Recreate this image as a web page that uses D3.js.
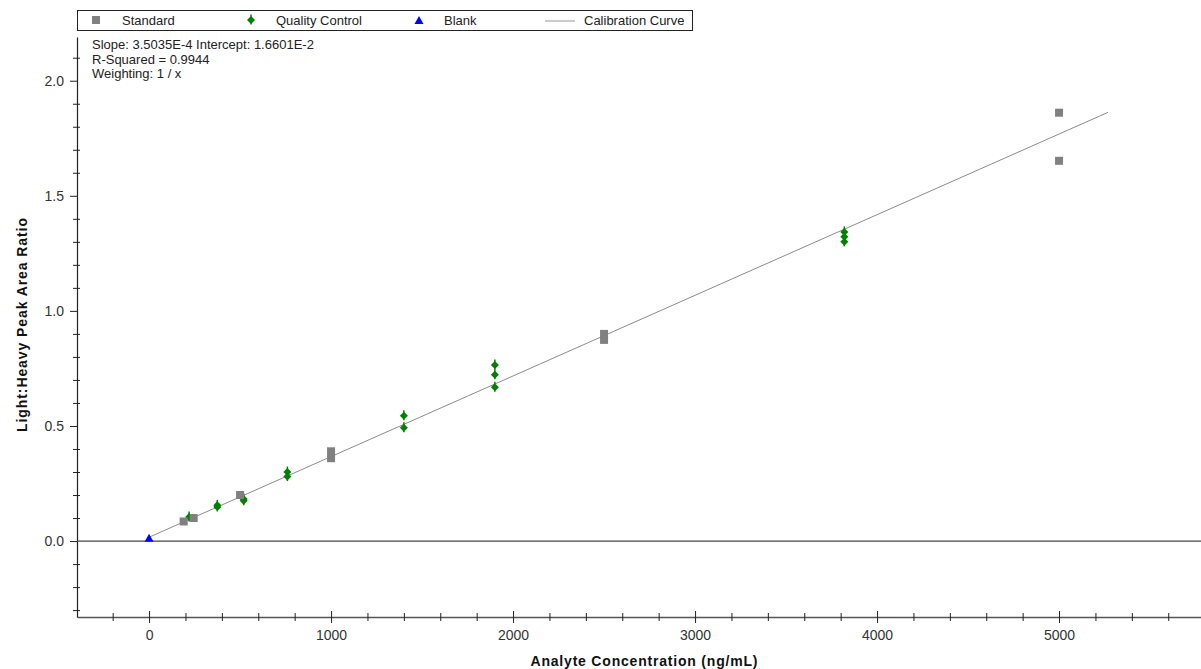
<!DOCTYPE html>
<html>
<head>
<meta charset="utf-8">
<script src="https://cdn.jsdelivr.net/npm/d3@7"></script>
<style>
    body { margin: 0; background: #fff; }
    svg { display: block; font-family: "Liberation Sans", Arial, sans-serif; }
</style>
</head>
<body>
<svg id="chart" width="1201" height="669"></svg>
<script>
"use strict";

// standards (concentration ng/mL, light:heavy ratio)
const stdConc = [190, 245, 500, 1000, 1000, 2500, 2500, 5000, 5000];
const stdRatio = [0.085, 0.100, 0.200, 0.390, 0.360, 0.900, 0.874, 1.861, 1.652];

// quality control samples
const qcConc = [220, 375, 375, 520, 520, 760, 760, 1400, 1400, 1900, 1900, 1900, 3820, 3820, 3820];
const qcRatio = [0.104, 0.148, 0.155, 0.175, 0.183, 0.300, 0.280, 0.544, 0.492, 0.765, 0.722, 0.668, 1.343, 1.322, 1.300];

// blanks
const blankConc = [0];
const blankRatio = [0.01];

// regression
const slope = 3.5035e-4;
const intercept = 1.6601e-2;
const curveRange = [0, 5270];

const xTicks = [0, 1000, 2000, 3000, 4000, 5000];
const yTicks = [0.0, 0.5, 1.0, 1.5, 2.0];
const annotation = ["Slope: 3.5035E-4 Intercept: 1.6601E-2", "R-Squared = 0.9944", "Weighting: 1 / x"];
const legendItems = ["Standard", "Quality Control", "Blank", "Calibration Curve"];

const svg = d3.select('#chart');

const x = d3.scaleLinear().domain([-396, 5780]).range([77, 1201]);
const y = d3.scaleLinear().domain([-0.33, 2.19]).range([617, 37]);

const axisColor = '#222';
const font = '"Liberation Sans", Arial, sans-serif';

// x axis
const xAxisG = svg.append('g').attr('transform', 'translate(0,617)')
    .call(d3.axisBottom(x).tickValues(xTicks).tickFormat(d3.format('d')).tickSizeInner(6).tickSizeOuter(0).tickPadding(7));
xAxisG.select('.domain').attr('stroke', '#555').attr('stroke-width', 1.5);
xAxisG.selectAll('.tick line').attr('y1', -6).attr('y2', 6).attr('stroke', axisColor);
xAxisG.selectAll('.tick text').attr('font-size', 14).attr('fill', '#333').attr('font-family', font);

const xMinor = d3.range(-200, 5780, 200).filter(function (d) { return d % 1000 !== 0; });
svg.append('g').attr('transform', 'translate(0,617)')
    .call(d3.axisBottom(x).tickValues(xMinor).tickFormat('').tickSizeOuter(0))
    .call(function (g) {
        g.select('.domain').remove();
        g.selectAll('.tick line').attr('y1', -4).attr('y2', 4).attr('stroke', axisColor);
    });

// y axis
const yAxisG = svg.append('g').attr('transform', 'translate(77,0)')
    .call(d3.axisLeft(y).tickValues(yTicks).tickFormat(d3.format('.1f')).tickSizeInner(7).tickSizeOuter(0).tickPadding(6));
yAxisG.select('.domain').attr('stroke', axisColor).attr('stroke-width', 1.2);
yAxisG.selectAll('.tick line').attr('stroke', axisColor);
yAxisG.selectAll('.tick text').attr('font-size', 14).attr('fill', '#333').attr('font-family', font);

const yMinor = d3.range(-3, 22).map(function (d) { return d / 10; }).filter(function (d, i) { return (i - 3) % 5 !== 0; });
svg.append('g').attr('transform', 'translate(77,0)')
    .call(d3.axisLeft(y).tickValues(yMinor).tickFormat('').tickSizeOuter(0))
    .call(function (g) {
        g.select('.domain').remove();
        g.selectAll('.tick line').attr('x1', -4).attr('x2', 3).attr('stroke', axisColor);
    });

// zero line
svg.append('line')
    .attr('x1', 77).attr('x2', 1201)
    .attr('y1', y(0)).attr('y2', y(0))
    .attr('stroke', '#444').attr('stroke-width', 1.2);

// calibration curve
const line = d3.line()
    .x(function (d) { return x(d); })
    .y(function (d) { return y(intercept + slope * d); });
svg.append('path')
    .datum(curveRange)
    .attr('d', line)
    .attr('fill', 'none')
    .attr('stroke', '#8c8c8c')
    .attr('stroke-width', 1);

// QC markers: diamond with a small stem
function qcMarker(g) {
    g.append('path').attr('d', 'M0,-4L4,0L0,4L-4,0Z').attr('fill', '#008000');
    g.append('line').attr('x1', 0).attr('x2', 0).attr('y1', -5.5).attr('y2', 4.5)
        .attr('stroke', '#008000').attr('stroke-width', 1.5);
}

svg.append('g').selectAll('g')
    .data(d3.range(qcConc.length))
    .join('g')
    .attr('transform', function (i) { return 'translate(' + x(qcConc[i]) + ',' + y(qcRatio[i]) + ')'; })
    .each(function () { qcMarker(d3.select(this)); });

// standards
svg.append('g').selectAll('rect')
    .data(d3.range(stdConc.length))
    .join('rect')
    .attr('x', function (i) { return x(stdConc[i]) - 4; })
    .attr('y', function (i) { return y(stdRatio[i]) - 4; })
    .attr('width', 8)
    .attr('height', 8)
    .attr('fill', '#808080');

// blanks
svg.append('g').selectAll('path')
    .data(d3.range(blankConc.length))
    .join('path')
    .attr('d', 'M0,-5L4.5,3L-4.5,3Z')
    .attr('transform', function (i) { return 'translate(' + x(blankConc[i]) + ',' + y(blankRatio[i]) + ')'; })
    .attr('fill', '#0000ff');

// annotation
svg.append('g').selectAll('text')
    .data(annotation)
    .join('text')
    .attr('x', 92)
    .attr('y', function (d, i) { return 49 + i * 14.5; })
    .attr('font-size', 13)
    .attr('fill', '#222')
    .text(function (d) { return d; });

// legend
const legend = svg.append('g');
legend.append('rect')
    .attr('x', 77.5).attr('y', 10.5).attr('width', 615).attr('height', 20)
    .attr('fill', '#fff').attr('stroke', '#222').attr('stroke-width', 1);
legend.append('rect').attr('x', 92).attr('y', 16).attr('width', 8).attr('height', 8).attr('fill', '#808080');
const lq = legend.append('g').attr('transform', 'translate(251,20)');
qcMarker(lq);
legend.append('path').attr('d', 'M0,-5L4.5,3L-4.5,3Z').attr('transform', 'translate(419,21)').attr('fill', '#0000ff');
legend.append('line').attr('x1', 545).attr('x2', 575).attr('y1', 21).attr('y2', 21).attr('stroke', '#aaa').attr('stroke-width', 1.2);
const legendX = [122, 276, 444, 584];
legend.selectAll('text')
    .data(legendItems)
    .join('text')
    .attr('x', function (d, i) { return legendX[i]; })
    .attr('y', 25)
    .attr('font-size', 13)
    .attr('fill', '#222')
    .text(function (d) { return d; });

// axis titles
svg.append('text')
    .attr('x', 644).attr('y', 666)
    .attr('text-anchor', 'middle')
    .attr('font-size', 14).attr('font-weight', 'bold').attr('fill', '#111')
    .attr('textLength', 227).attr('lengthAdjust', 'spacing')
    .text('Analyte Concentration (ng/mL)');

svg.append('text')
    .attr('transform', 'translate(27,325) rotate(-90)')
    .attr('text-anchor', 'middle')
    .attr('font-size', 14).attr('font-weight', 'bold').attr('fill', '#111')
    .attr('textLength', 214).attr('lengthAdjust', 'spacing')
    .text('Light:Heavy Peak Area Ratio');
</script>
</body>
</html>
